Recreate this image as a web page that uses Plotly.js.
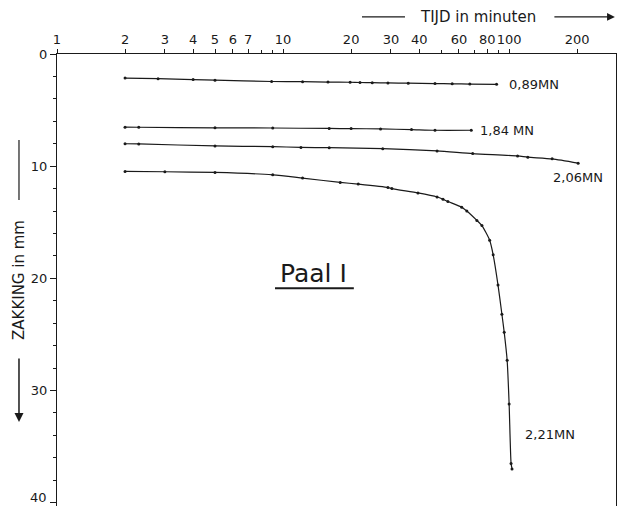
<!DOCTYPE html>
<html>
<head>
<meta charset="utf-8">
<script src="https://cdn.plot.ly/plotly-3.0.1.min.js"></script>
<style>html,body{margin:0;padding:0;background:#fff;}#chart{width:628px;height:506px;}</style>
</head>
<body>
<div id="chart"></div>
<script>
// Tijd (minuten) en zakking (mm) per belasting
const t089 = [2, 2.8, 4, 5, 8.9, 12.2, 15.8, 19.8, 21.9, 24.8, 29.1, 35.8, 47, 56, 67, 88];
const z089 = [2.15, 2.2, 2.28, 2.33, 2.45, 2.47, 2.5, 2.52, 2.54, 2.56, 2.58, 2.6, 2.64, 2.66, 2.68, 2.7];

const t184 = [2, 2.3, 5, 9, 16, 20, 27, 37, 47, 68];
const z184 = [6.52, 6.53, 6.58, 6.6, 6.64, 6.65, 6.68, 6.74, 6.8, 6.8];

const t206 = [2, 2.3, 5, 9, 12, 16, 27.6, 48, 69, 109, 121, 155, 202];
const z206 = [8.0, 8.02, 8.2, 8.26, 8.33, 8.35, 8.44, 8.64, 8.88, 9.09, 9.2, 9.35, 9.73];

const t221 = [2, 3, 5, 9, 12.2, 17.9, 21.5, 29.1, 30.3, 39.5, 48, 51, 53.6, 61.7, 65, 72, 75.8, 82, 85, 89.3, 92.9, 95.1, 98, 100, 102, 103];
const z221 = [10.47, 10.5, 10.56, 10.77, 11.06, 11.45, 11.6, 11.9, 12.0, 12.39, 12.75, 12.95, 13.15, 13.66, 14.0, 14.84, 15.3, 16.6, 17.9, 20.6, 23.2, 24.8, 27.3, 31.2, 36.5, 37.0];

const seriesNames = ['0,89MN', '1,84 MN', '2,06MN', '2,21MN'];

const xTickVals = [1, 2, 3, 4, 5, 6, 7, 10, 20, 30, 40, 60, 80, 100, 200];
const xTickText = ['1', '2', '3', '4', '5', '6', '7', '10', '20', '30', '40', '60', '80', '100', '200'];
const xMinorVals = [8, 9, 50, 70, 90, 300];
const yTickVals = [0, 10, 20, 30, 40];
const yTickText = ['0', '10', '20', '30', '40'];

const ink = '#1a1a1a';
const FONT = 'DejaVu Sans, Arial, sans-serif';

const sets = [[t089, z089], [t184, z184], [t206, z206], [t221, z221]];
const traces = sets.map((s, i) => ({
  x: s[0], y: s[1], type: 'scatter', mode: 'lines+markers', name: seriesNames[i],
  line: {color: ink, width: 1.2, shape: 'spline', smoothing: 0.6},
  marker: {color: ink, size: 3},
  hoverinfo: 'skip', cliponaxis: false
}));

// label offsets (pixels) from each series' last point
const labelOffsets = [
  {xshift: 10, yshift: 0, xanchor: 'left'},
  {xshift: 7, yshift: 0, xanchor: 'left'},
  {xshift: 0, yshift: -14, xanchor: 'center'},
  {xshift: 11, yshift: 34, xanchor: 'left'}
];
const annotations = sets.map((s, i) => ({
  x: Math.log10(s[0][s[0].length - 1]), y: s[1][s[1].length - 1],
  xref: 'x', yref: 'y', text: seriesNames[i], showarrow: false,
  xanchor: labelOffsets[i].xanchor, yanchor: 'middle',
  xshift: labelOffsets[i].xshift, yshift: labelOffsets[i].yshift,
  font: {family: FONT, size: 13, color: ink}
}));

// last y tick label sits on the page edge; draw it explicitly, fully visible
annotations.push({
  xref: 'paper', yref: 'y', x: 0, y: yTickVals[yTickVals.length - 1],
  text: yTickText[yTickText.length - 1], showarrow: false,
  xanchor: 'right', yanchor: 'middle', xshift: -8, yshift: 5,
  font: {family: FONT, size: 13, color: ink}
});

// axis titles with arrows
annotations.push({
  xref: 'paper', yref: 'paper', x: 0.753, y: 1.082, text: 'TIJD in minuten',
  showarrow: false, xanchor: 'center', yanchor: 'middle',
  font: {family: FONT, size: 15, color: ink}
});
annotations.push({
  xref: 'paper', yref: 'paper', x: 0.998, y: 1.082, text: '', showarrow: true,
  ax: -62, ay: 0, arrowhead: 2, arrowsize: 1.2, arrowwidth: 1.3, arrowcolor: ink
});
annotations.push({
  xref: 'paper', yref: 'paper', x: -0.068, y: 0.5, text: 'ZAKKING in mm',
  showarrow: false, textangle: -90, xanchor: 'center', yanchor: 'middle',
  font: {family: FONT, size: 15, color: ink}
});
annotations.push({
  xref: 'paper', yref: 'paper', x: -0.068, y: 0.186, text: '', showarrow: true,
  ax: 0, ay: -65, arrowhead: 2, arrowsize: 1.2, arrowwidth: 1.5, arrowcolor: ink
});
annotations.push({
  xref: 'paper', yref: 'paper', x: 0.459, y: 0.515, text: 'Paal I',
  showarrow: false, xanchor: 'center', yanchor: 'middle',
  font: {family: FONT, size: 25, color: ink}
});

const shapes = [
  {type: 'line', xref: 'paper', yref: 'paper', x0: 0.5456, x1: 0.6225, y0: 1.082, y1: 1.082, line: {color: ink, width: 1.2}},
  {type: 'line', xref: 'paper', yref: 'paper', x0: -0.068, x1: -0.068, y0: 0.81, y1: 0.677, line: {color: ink, width: 1.2}},
  {type: 'line', xref: 'paper', yref: 'paper', x0: 0.39, x1: 0.531, y0: 0.482, y1: 0.482, line: {color: ink, width: 2}}
];

const layout = {
  width: 628, height: 506,
  margin: {l: 57, r: 12, t: 54, b: 0},
  paper_bgcolor: '#fff', plot_bgcolor: '#fff',
  showlegend: false,
  font: {family: FONT, color: ink},
  xaxis: {
    type: 'log', range: [0, Math.log10(297)], side: 'top',
    showline: true, linecolor: ink, linewidth: 1, mirror: true,
    tickmode: 'array', tickvals: xTickVals, ticktext: xTickText, tickangle: 0,
    ticks: 'outside', ticklen: 4, tickcolor: ink, tickwidth: 1,
    tickfont: {family: FONT, size: 13, color: ink},
    showgrid: false, zeroline: false,
    minor: {tickmode: 'array', tickvals: xMinorVals, ticks: 'outside', ticklen: 3, tickcolor: ink, showgrid: false}
  },
  yaxis: {
    range: [40.3, 0],
    showline: true, linecolor: ink, linewidth: 1, mirror: true,
    tickmode: 'array', tickvals: yTickVals, ticktext: yTickText, tickangle: 0,
    ticks: 'outside', ticklen: 6, tickcolor: ink, tickwidth: 1,
    tickfont: {family: FONT, size: 13, color: ink},
    showgrid: false, zeroline: false,
    minor: {dtick: 2, ticks: 'outside', ticklen: 3, tickcolor: ink, showgrid: false}
  },
  annotations: annotations,
  shapes: shapes
};

Plotly.newPlot('chart', traces, layout, {staticPlot: true, displayModeBar: false});
</script>
</body>
</html>
